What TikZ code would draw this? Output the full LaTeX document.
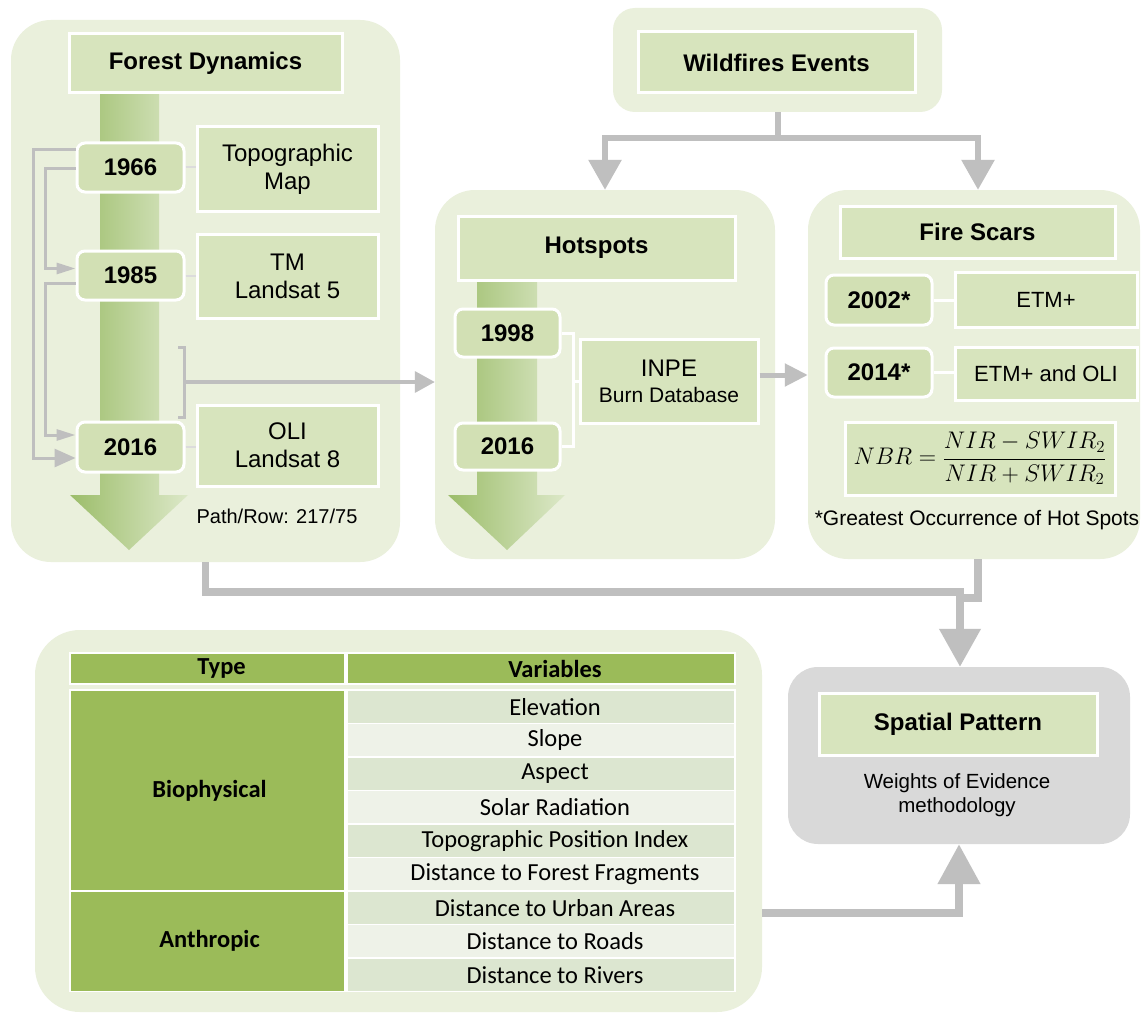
\documentclass[tikz,border=0pt]{standalone}
\usepackage{fix-cm}
\usepackage{fontspec}
\setmainfont{Liberation Sans}
\newfontfamily\calibri{Carlito}
\usetikzlibrary{arrows.meta,calc}
\definecolor{panelG}{HTML}{EAF0DC}
\definecolor{headG}{HTML}{D7E4BD}
\definecolor{yearG}{HTML}{D2E0B4}
\definecolor{connG}{HTML}{BFBFBF}
\definecolor{arrDark}{HTML}{9CBD6A}
\definecolor{arrLight}{HTML}{DCE8C8}
\definecolor{tblG}{HTML}{9BBB59}
\definecolor{rowA}{HTML}{DCE6D0}
\definecolor{rowB}{HTML}{EEF2E8}
\definecolor{spGray}{HTML}{D9D9D9}
\begin{document}
\begin{tikzpicture}[x=1pt,y=-1pt,
  panel/.style={fill=panelG, draw=none, rounded corners=40pt, inner sep=0pt},
  headbox/.style={fill=headG, draw=white, line width=3pt, inner sep=0pt,
    font=\fontsize{24}{28}\selectfont\bfseries},
  yearbox/.style={fill=yearG, draw=white, line width=3pt, rounded corners=8pt,
    inner sep=0pt, minimum width=106pt, font=\fontsize{24}{28}\selectfont\bfseries},
  descbox/.style={fill=headG, draw=white, line width=3pt, inner sep=0pt,
    align=center, font=\fontsize{24}{28}\selectfont},
  gconn/.style={draw=connG, line width=6pt},
  bconn/.style={draw=connG, line width=7.5pt},
  loopline/.style={draw=connG, line width=3pt},
  shortline/.style={draw=white!45!connG, line width=2pt},
  whiteline/.style={draw=white, line width=3pt},
  tcell/.style={fill=tblG, draw=white, line width=1.5pt, inner sep=0pt},
  vcell/.style={draw=white, line width=1.5pt, inner sep=0pt,
    minimum width=388pt, minimum height=33.5pt},
  thtext/.style={font=\calibri\bfseries\fontsize{24.5}{28}\selectfont, inner sep=0pt},
  vtext/.style={font=\calibri\fontsize{24.5}{28}\selectfont, inner sep=0pt, xshift=14pt}
]
\useasboundingbox (0,0) rectangle (1146,1014);
\fill[white] (0,0) rectangle (1146,1014);

% ---------- panels ----------
\node[panel, minimum width=389pt, minimum height=542pt] (fdp) at (205.5,291) {};
\node[panel, rounded corners=22pt, minimum width=329pt, minimum height=104pt] (wfp) at (777.5,60) {};
\node[panel, minimum width=340pt, minimum height=369pt] (hsp) at (605,374.5) {};
\node[panel, minimum width=332pt, minimum height=369pt] (fsp) at (974,374.5) {};
\node[panel, rounded corners=45pt, minimum width=727pt, minimum height=382pt] (tbp) at (398.5,821) {};
\node[panel, fill=spGray, rounded corners=30pt, minimum width=342pt, minimum height=177pt] (spp) at (959,755.5) {};

% ---------- big time arrows ----------
\shade[left color=arrDark, right color=arrLight]
  (100,93) -- (159,93) -- (159,495) -- (188,495) -- (129,550) -- (70,495) -- (100,495) -- cycle;
\shade[left color=arrDark, right color=arrLight]
  (477,280) -- (537,280) -- (537,495) -- (565,495) -- (507,550) -- (448,495) -- (477,495) -- cycle;

% ---------- headers ----------
\node[headbox, minimum width=273pt, minimum height=59pt] (fdh) at (205.5,63.5) {Forest Dynamics};
\node[headbox, minimum width=277pt, minimum height=61pt] (wfh) at (776.5,62.5) {Wildfires Events};
\node[headbox, minimum width=277pt, minimum height=64pt] (hsh) at (596.5,248) {Hotspots};
\node[headbox, minimum width=275pt, minimum height=52pt] (fsh) at (977.5,232) {Fire Scars};
\node[headbox, minimum width=278pt, minimum height=62pt] (sph) at (958,724) {Spatial Pattern};

% ---------- forest dynamics ----------
\node[yearbox, minimum width=107pt, minimum height=49pt] (y66) at (130.5,167.5) {1966};
\node[yearbox, minimum width=107pt, minimum height=49pt] (y85) at (130.5,275.5) {1985};
\node[yearbox, minimum width=107pt, minimum height=50pt] (y16) at (130.5,447) {2016};
\node[descbox, minimum width=181pt, minimum height=84pt] (topo) at (287.5,169) {Topographic\\Map};
\node[descbox, minimum width=181pt, minimum height=84pt] (tm) at (287.5,276) {TM\\Landsat 5};
\node[descbox, minimum width=181pt, minimum height=81pt] (oli) at (287.5,445.5) {OLI\\Landsat 8};
\node[font=\fontsize{20}{24}\selectfont] (pathrow) at (277,516) {Path/Row: 217/75};

\draw[shortline] (y66.east) -- (topo.west |- y66.east);
\draw[shortline] (y85.east) -- (tm.west |- y85.east);
\draw[shortline] (y16.east) -- (oli.west |- y16.east);

\draw[loopline, -{Triangle[width=18pt,length=21pt]}]
  ($(y66.west)+(0,-18)$) -- ++(-42,0) |- ($(y16.west)+(0,11)$);
\draw[loopline, -{Triangle[width=11pt,length=19pt]}]
  ($(y66.west)+(0,1)$) -- ++(-30,0) |- ($(y85.west)+(0,-7)$);
\draw[loopline, -{Triangle[width=11pt,length=19pt]}]
  ($(y85.west)+(0,8)$) -- ++(-30,0) |- ($(y16.west)+(0,-12)$);

\coordinate (brT) at (178,347);
\coordinate (brB) at (178,417);
\coordinate (brM) at (184,382);
\draw[loopline] (brT) -- ++(6,0) |- (brB);
\draw[loopline, line width=3.5pt, -{Triangle[width=21pt,length=20pt]}] (brM) -- (hsp.west |- brM);

% ---------- hotspots ----------
\node[yearbox, minimum width=105pt, minimum height=48pt] (h98) at (507.5,333) {1998};
\node[yearbox, minimum width=105pt, minimum height=47pt] (h16) at (507.5,446.5) {2016};
\node[descbox, minimum width=178pt, minimum height=84pt] (inpe) at (669,381)
  {INPE\\[-2pt]{\fontsize{21}{24}\selectfont Burn Database}};
\draw[whiteline] (h98.east) -- ++(12,0) coordinate (hb) |- (h16.east);
\draw[whiteline] (hb |- inpe.west) -- (inpe.west);

% ---------- fire scars ----------
\node[yearbox, minimum width=106pt, minimum height=50pt] (f02) at (879,300) {2002*};
\node[yearbox, minimum width=106pt, minimum height=49pt] (f14) at (879,372.5) {2014*};
\node[descbox, font=\fontsize{22}{26}\selectfont, minimum width=182pt, minimum height=55pt] (etm) at (1046,299.5) {ETM+};
\node[descbox, font=\fontsize{22}{26}\selectfont, minimum width=182pt, minimum height=53pt] (etmo) at (1046,373.5) {ETM+ and OLI};
\node[descbox, minimum width=270pt, minimum height=73pt] (nbr) at (980,458.5)
  {$NBR=\displaystyle\frac{NIR-SWIR_2}{NIR+SWIR_2}$};
\node[font=\fontsize{21}{25}\selectfont] (note) at (977,520) {*Greatest Occurrence of Hot Spots};
\draw[whiteline] (f02.east) -- (etm.west |- f02.east);
\draw[whiteline] (f14.east) -- (etmo.west |- f14.east);

% ---------- spatial pattern ----------
\node[font=\fontsize{20.5}{24.5}\selectfont, align=center] (woe) at (957,795) {Weights of Evidence\\methodology};

% ---------- table ----------
\node[tcell, minimum width=275pt, minimum height=31pt, label={[thtext, xshift=14pt]center:Type}] (thT) at (207.5,668.5) {};
\node[tcell, minimum width=388pt, minimum height=31pt, label={[thtext, xshift=14pt]center:Variables}] (thV) at (541,668.5) {};
\node[tcell, minimum width=275pt, minimum height=201pt, label={[thtext, xshift=2pt]center:Biophysical}] (tBio) at (207.5,790.5) {};
\node[tcell, minimum width=275pt, minimum height=100.5pt, label={[thtext, xshift=2pt]center:Anthropic}] (tAnt) at (207.5,941.25) {};
\foreach \vname [count=\i] in {Elevation,Slope,Aspect,Solar Radiation,Topographic Position Index,Distance to Forest Fragments,Distance to Urban Areas,Distance to Roads,Distance to Rivers}{
  \pgfmathsetmacro\yy{690+33.5*(\i-0.5)}
  \ifodd\i \def\rc{rowA}\else \def\rc{rowB}\fi
  \node[vcell, fill=\rc, label={[vtext]center:\vname}] (v\i) at (541,\yy) {};
}

% ---------- connectors between panels ----------
\coordinate (wfj) at (777.5,138);
\draw[gconn] (wfp.south) -- (wfj);
\draw[gconn, -{Triangle[width=32pt,length=30pt]}] (wfj) -| (hsp.north);
\draw[gconn, -{Triangle[width=32pt,length=30pt]}] (wfj) -| ([xshift=4pt]fsp.north);

\coordinate (ia) at ([yshift=6pt]inpe.east);
\draw[draw=connG, line width=5pt, -{Triangle[width=22pt,length=23pt]}] (ia) -- (fsp.west |- ia);

\coordinate (sj1) at (960,592);
\coordinate (sj2) at (960,598);
\draw[bconn] ([xshift=4pt]fsp.south) |- (sj2);
\draw[bconn, -{Triangle[width=40pt,length=38pt]}] (fdp.south) |- (sj1) -- (sj1 |- spp.north);

\coordinate (ty) at (0,913);
\draw[bconn, line width=8pt, -{Triangle[width=41pt,length=40pt]}] (tbp.east |- ty) -| (spp.south);
\end{tikzpicture}
\end{document}
